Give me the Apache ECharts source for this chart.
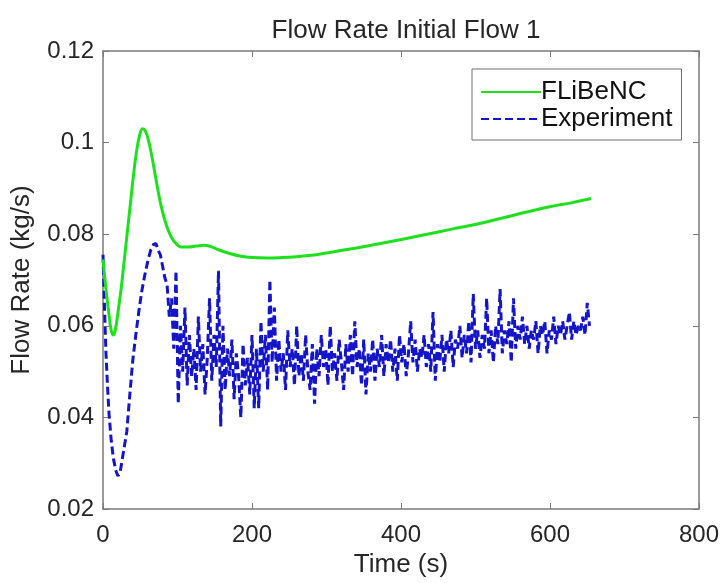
<!DOCTYPE html>
<html>
<head>
<meta charset="utf-8">
<script src="https://cdn.jsdelivr.net/npm/echarts@6/dist/echarts.min.js"></script>
<style>html,body{margin:0;padding:0;background:#fff}#c{width:725px;height:583px}</style>
</head>
<body>
<div id="c"></div>
<script>
// FLiBeNC model
const simTime = [0,4,8,11,14,17,21,25,29,33,37,41,45,49,53,57,61,65,70,75,80,86,92,98,105,115,125,135,145,155,170,185,200,220,240,260,280,300,330,360,390,420,450,480,510,540,570,600,630,655];
const simFlow = [0.0745,0.068,0.0625,0.059,0.058,0.0595,0.064,0.069,0.075,0.081,0.087,0.093,0.098,0.1015,0.103,0.1025,0.1005,0.0975,0.093,0.0885,0.0848,0.0815,0.0793,0.0780,0.0772,0.0772,0.0774,0.0776,0.0773,0.0766,0.0758,0.0752,0.0749,0.0748,0.0749,0.0751,0.0754,0.0759,0.0767,0.0776,0.0785,0.0795,0.0805,0.0815,0.0825,0.0837,0.0849,0.0860,0.0869,0.0878];

// Experiment
const expTime = [0,2,4,6,8,11,14,17,20,23,26,29,32,36,40,44,48,52,56,60,64,68,71,74,77,80,83,
86,89,92,95,98,101,104,107,110,113,
116,119,122,125,128,131,134,137,140,143,
146,149,152,155,158,161,164,167,170,173,
176,179,182,185,188,191,194,197,200,203,
206,209,212,215,218,221,224,227,230,233,
236,239,242,245,248,251,254,257,260,263,
266,269,272,275,278,281,284,287,290,293,
296,299,302,305,308,311,314,317,320,323,
326,329,332,335,338,341,344,347,350,353,
356,359,362,365,368,371,374,377,380,383,
386,389,392,395,398,401,404,407,410,413,
416,419,422,425,428,431,434,437,440,443,
446,449,452,455,458,461,464,467,470,473,
476,479,482,485,488,491,494,497,500,503,
506,509,512,515,518,521,524,527,530,533,
536,539,542,545,548,551,554,557,560,563,
566,569,572,575,578,581,584,587,590,593,
596,599,602,605,608,611,614,617,620,623,
626,629,632,635,638,641,644,647,650,653];
const expFlow = [0.0755,0.064,0.054,0.047,0.041,0.035,0.031,0.0285,0.0272,0.028,0.031,0.034,0.037,0.045,0.0525,0.058,0.063,0.0675,0.071,0.074,0.0765,0.0778,0.078,0.0765,0.0755,0.073,0.0705,
0.069,0.062,0.066,0.055,0.072,0.043,0.060,0.050,0.064,0.047,
0.058,0.049,0.055,0.046,0.062,0.050,0.056,0.045,0.053,0.066,
0.048,0.058,0.051,0.072,0.038,0.060,0.046,0.055,0.049,0.057,
0.044,0.054,0.049,0.040,0.056,0.047,0.053,0.045,0.058,0.042,
0.055,0.042,0.061,0.050,0.058,0.046,0.070,0.052,0.064,0.048,
0.057,0.050,0.054,0.046,0.059,0.051,0.055,0.047,0.060,0.049,
0.054,0.048,0.058,0.050,0.046,0.056,0.043,0.055,0.049,0.058,
0.051,0.055,0.047,0.060,0.050,0.054,0.048,0.057,0.052,0.046,
0.056,0.050,0.058,0.049,0.061,0.051,0.055,0.047,0.057,0.045,
0.054,0.050,0.057,0.048,0.055,0.051,0.058,0.049,0.056,0.052,
0.057,0.050,0.055,0.048,0.058,0.052,0.056,0.049,0.054,0.061,
0.052,0.057,0.050,0.055,0.053,0.058,0.051,0.056,0.050,0.063,
0.048,0.056,0.052,0.058,0.050,0.057,0.054,0.059,0.051,0.057,
0.055,0.060,0.053,0.058,0.054,0.061,0.052,0.067,0.055,0.059,
0.053,0.058,0.055,0.066,0.054,0.059,0.052,0.060,0.056,0.068,
0.054,0.059,0.056,0.061,0.052,0.066,0.055,0.060,0.057,0.062,
0.056,0.060,0.055,0.059,0.057,0.061,0.054,0.060,0.058,0.061,
0.054,0.059,0.057,0.062,0.056,0.060,0.058,0.061,0.057,0.060,
0.063,0.057,0.061,0.058,0.060,0.059,0.062,0.058,0.065,0.060];

const xTicks = [0, 200, 400, 600, 800];
const yTicks = [0.02, 0.04, 0.06, 0.08, 0.1, 0.12];
const seriesNames = ['FLiBeNC', 'Experiment'];
const titleText = 'Flow Rate Initial Flow 1';

const FONT = "'Liberation Sans', Arial, sans-serif";
const AX = '#7a7a7a';
const TXT = '#262626';

function pairs(t, v){ return t.map((x,i)=>[x, v[i]]); }

const chart = echarts.init(document.getElementById('c'));
const baseX = {type:'value', min:xTicks[0], max:xTicks[xTicks.length-1], interval:200,
  axisLine:{show:true, onZero:false, lineStyle:{color:AX, width:1.5}},
  axisTick:{show:true, inside:true, length:6, lineStyle:{color:AX}},
  splitLine:{show:false}};
const baseY = {type:'value', min:yTicks[0], max:yTicks[yTicks.length-1], interval:0.02,
  axisLine:{show:true, onZero:false, lineStyle:{color:AX, width:1.5}},
  axisTick:{show:true, inside:true, length:6, lineStyle:{color:AX}},
  splitLine:{show:false}};

chart.setOption({
  animation:false,
  backgroundColor:'#fff',
  textStyle:{fontFamily:FONT},
  title:{text:titleText, left:401, textAlign:'center', top:13,
    textStyle:{fontFamily:FONT, fontSize:26, fontWeight:'normal', color:TXT}},
  grid:{left:103, right:26, top:51, bottom:74, containLabel:false},
  legend:{orient:'vertical', left:472, top:69, width:209,
    backgroundColor:'#fff', borderColor:'#6f6f6f', borderWidth:1,
    padding:[10,9,8,8], itemWidth:60, itemHeight:14, itemGap:1,
    itemStyle:{opacity:0},
    textStyle:{fontFamily:FONT, fontSize:26, color:'#111', padding:[0,0,0,-5]},
    data:seriesNames},
  xAxis:[
    Object.assign({}, baseX, {position:'bottom',
      axisLabel:{fontFamily:FONT, fontSize:24, color:TXT, margin:14},
      name:'Time (s)', nameLocation:'middle', nameGap:42,
      nameTextStyle:{fontFamily:FONT, fontSize:26, color:TXT}}),
    Object.assign({}, baseX, {position:'top', axisLabel:{show:false}})
  ],
  yAxis:[
    Object.assign({}, baseY, {position:'left',
      axisLabel:{fontFamily:FONT, fontSize:24, color:TXT, margin:9,
        formatter:v=>String(+v.toFixed(2))},
      name:'Flow Rate (kg/s)', nameLocation:'middle', nameGap:68, nameRotate:90,
      nameTextStyle:{fontFamily:FONT, fontSize:26, color:TXT}}),
    Object.assign({}, baseY, {position:'right', axisLabel:{show:false}})
  ],
  series:[
    {name:seriesNames[0], type:'line', data:pairs(simTime, simFlow), showSymbol:false, symbol:'none',
      smooth:0.4, lineStyle:{color:'#1ee01e', width:3}, itemStyle:{color:'#1ee01e'}, z:3},
    {name:seriesNames[1], type:'line', data:pairs(expTime, expFlow), showSymbol:false, symbol:'none',
      lineStyle:{color:'#1414c8', width:3, type:[8,4]}, itemStyle:{color:'#1414c8'}, z:2}
  ]
});
</script>
</body>
</html>
